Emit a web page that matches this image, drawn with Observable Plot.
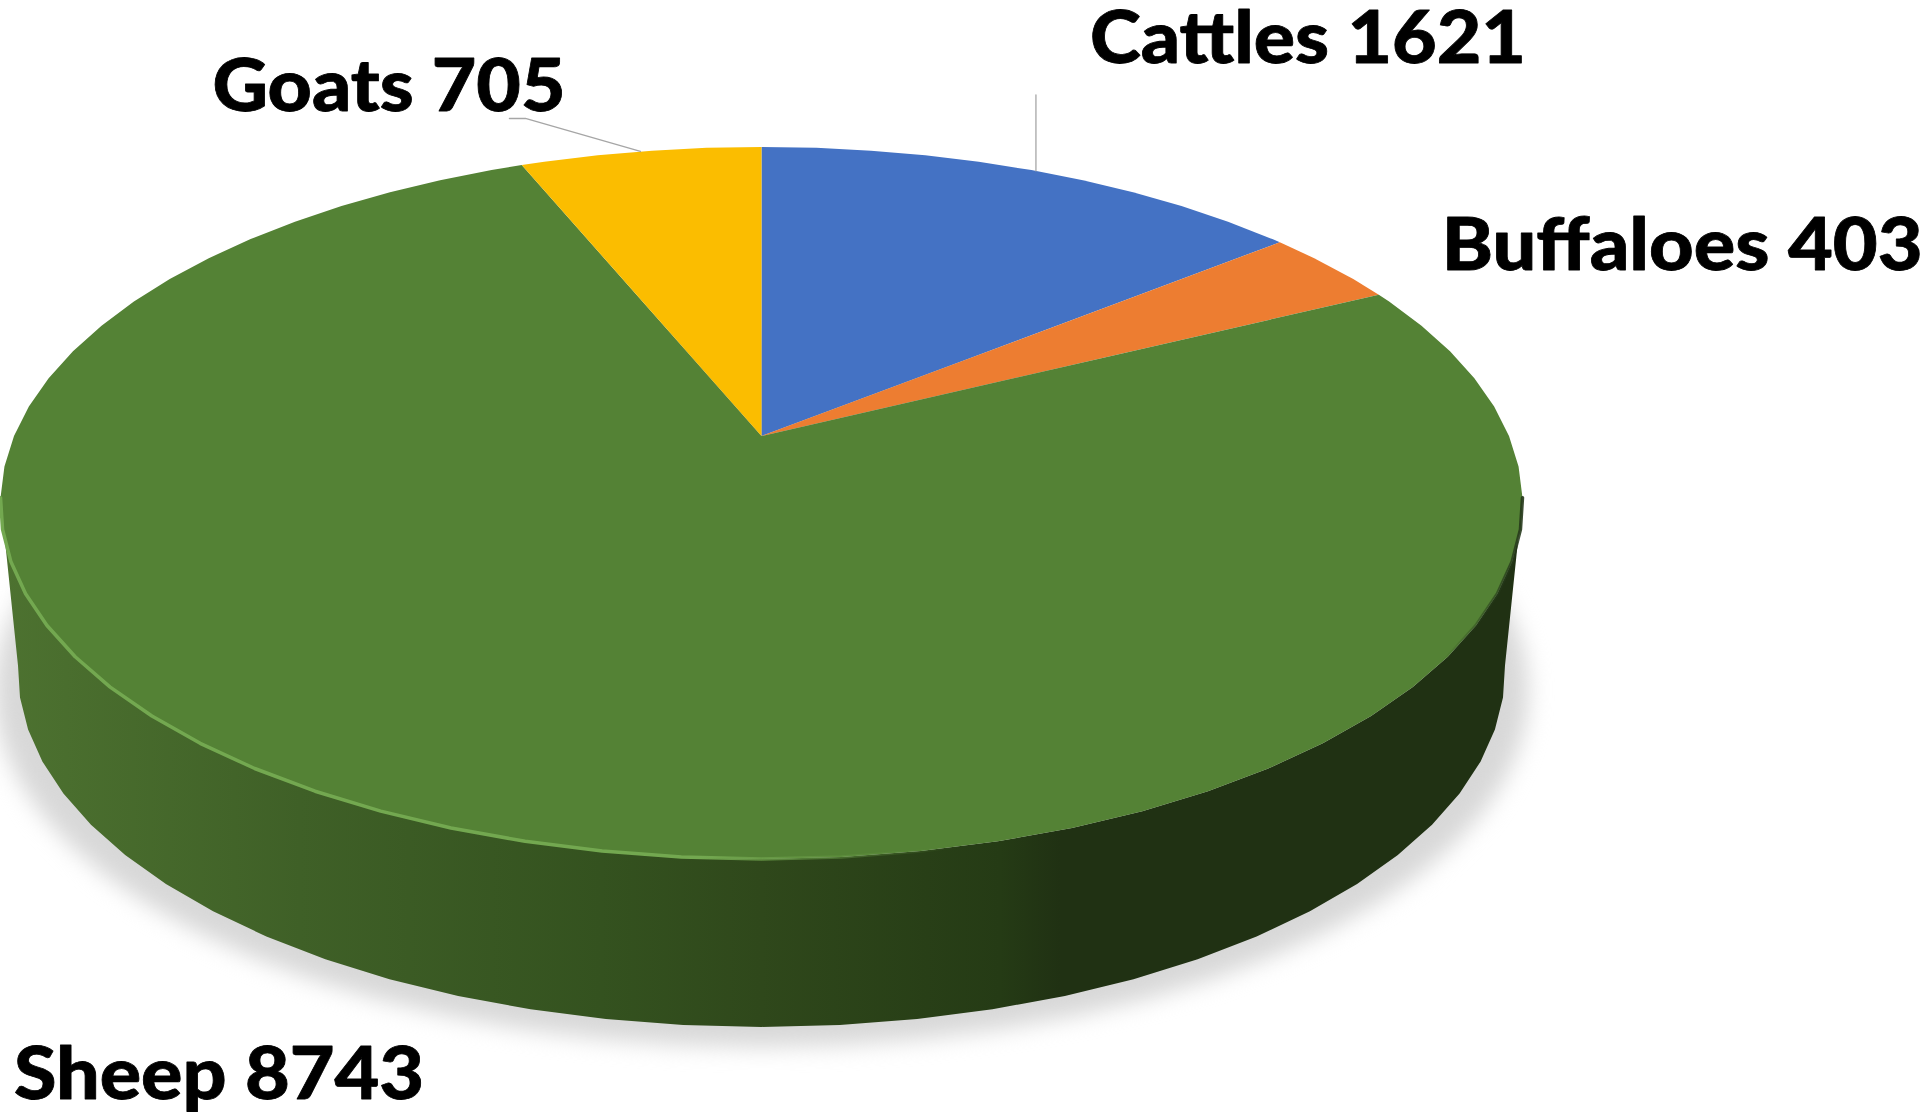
<!DOCTYPE html>
<html>
<head>
<meta charset="utf-8">
<style>
html,body{margin:0;padding:0;background:#fff;overflow:hidden}
svg{display:block}
</style>
<script src="https://cdn.jsdelivr.net/npm/d3@7"></script>
<script src="https://cdn.jsdelivr.net/npm/@observablehq/plot@0.6"></script>
</head>
<body>
<div id="chart"></div>
<script>
// ---- data ----
const names  = ["Cattles", "Buffaloes", "Sheep", "Goats"];
const values = [1621, 403, 8743, 705];
const colors = ["#4472c4", "#ed7d31", "#548235", "#fbbd00"];

// ---- label layout: offset of the label baseline start from the slice's rim mid-point, and text width ----
const labelDx = [54, 110, -427, -428];
const labelDy = [-108, 3, 273, -40];
const labelWidth = [436, 481, 410, 353];

// ---- view of the tilted disc ----
const W = 1924, H = 1117;
const view = {cx: 761, cy: 435.5, a: 747.5, b: 343.4, k: 0.188, depth: 168, baseScale: 0.977, step: 5};
const rad = Math.PI / 180;
function rim(theta) {
  const s = Math.sin(theta * rad), c = Math.cos(theta * rad), w = 1 + view.k * c;
  return {x: view.cx + view.a * s / w, y: view.cy - view.b * c / w};
}
function base(theta) {
  const p = rim(theta);
  return {x: view.cx + (p.x - view.cx) * view.baseScale, y: p.y + view.depth};
}
function arc(from, to, step = view.step) {
  const out = [from];
  for (let t = (Math.floor(from / step) + 1) * step; t < to - 1e-6; t += step) out.push(t);
  out.push(to);
  return out;
}

const total = d3.sum(values);
let acc = 0;
const slices = names.map((name, i) => {
  const start = acc / total * 360;
  acc += values[i];
  const end = acc / total * 360;
  return {name, value: values[i], start, end, mid: (start + end) / 2, i};
});

const topPoints = slices.flatMap(s => [
  {name: s.name, x: view.cx, y: view.cy},
  ...arc(s.start, s.end).map(t => ({name: s.name, ...rim(t)}))
]);

// the side wall runs between the two rim vertices nearest the disc's widest points
const wallFrom = 100, wallTo = 260;
const wallPoints = [
  ...arc(wallFrom, wallTo).map(t => rim(t)),
  ...arc(wallFrom, wallTo).reverse().map(t => base(t))
];
const shadowPoints = arc(0, 360, 5).map(t => {
  const p = base(t);
  return {x: view.cx + (p.x - view.cx) * 1.032, y: p.y + 20};
});
const rimPoints = arc(100, 260, 5).map(t => rim(t));

const labels = slices.map(s => {
  const p = rim(s.mid);
  return {text: `${s.name} ${s.value}`, x: p.x + labelDx[s.i], y: p.y + labelDy[s.i], width: labelWidth[s.i]};
});

const cattleRim = rim(slices[0].mid), goatRim = rim(slices[3].mid);
const leaders = [
  {id: "Cattles", ...cattleRim},
  {id: "Cattles", x: cattleRim.x, y: cattleRim.y - 76},
  {id: "Goats", ...goatRim},
  {id: "Goats", x: goatRim.x - 115, y: goatRim.y - 33},
  {id: "Goats", x: goatRim.x - 131, y: goatRim.y - 33}
];

function defs() {
  const d = d3.create("svg:defs");
  const grad = (id, stops) => {
    const g = d.append("linearGradient").attr("id", id)
      .attr("gradientUnits", "userSpaceOnUse")
      .attr("x1", 0).attr("x2", W).attr("y1", 0).attr("y2", 0);
    stops.forEach(([o, c, a]) => g.append("stop")
      .attr("offset", o / W).attr("stop-color", c).attr("stop-opacity", a ?? 1));
  };
  grad("wall", [[0, "#4d7230"], [300, "#3f6027"], [600, "#34521f"], [760, "#2f481b"], [1000, "#253b15"], [1060, "#203113"], [W, "#203113"]]);
  grad("rim", [[0, "#73a850"], [700, "#73a850"], [960, "#5c8c3c", 0], [1440, "#25381a", 0], [1521, "#25381a", 0.9], [W, "#25381a", 0.9]]);
  return d.node();
}

const chart = Plot.plot({
  width: W, height: H,
  margin: 0,
  style: {background: "#fff"},
  x: {domain: [0, W], range: [0, W], axis: null},
  y: {domain: [0, H], range: [0, H], axis: null},
  color: {domain: names, range: colors},
  marks: [
    defs,
    Plot.line(shadowPoints, {x: "x", y: "y", fill: "#d8d8d8", stroke: "none", imageFilter: "blur(11px)"}),
    Plot.line(wallPoints, {x: "x", y: "y", fill: "url(#wall)", stroke: "none"}),
    Plot.line(topPoints, {x: "x", y: "y", z: "name", fill: "name", stroke: "none"}),
    Plot.line(rimPoints, {x: "x", y: "y", stroke: "url(#rim)", strokeWidth: 3.5, imageFilter: "blur(0.7px)"}),
    Plot.line(leaders, {x: "x", y: "y", z: "id", stroke: "#a6a6a6", strokeWidth: 1.3}),
    Plot.text(labels, {
      x: "x", y: "y", text: "text",
      textAnchor: "start", lineAnchor: "bottom",
      fontFamily: "Lato, 'Open Sans', sans-serif",
      fontWeight: 900, fontSize: 73, fill: "#000",
      stroke: "#000", strokeWidth: 0.8
    })
  ]
});
d3.select(chart).selectAll('g[aria-label="text"] text')
  .attr("textLength", (_, i) => labels[i].width)
  .attr("lengthAdjust", "spacingAndGlyphs");
document.getElementById("chart").append(chart);
</script>
</body>
</html>
